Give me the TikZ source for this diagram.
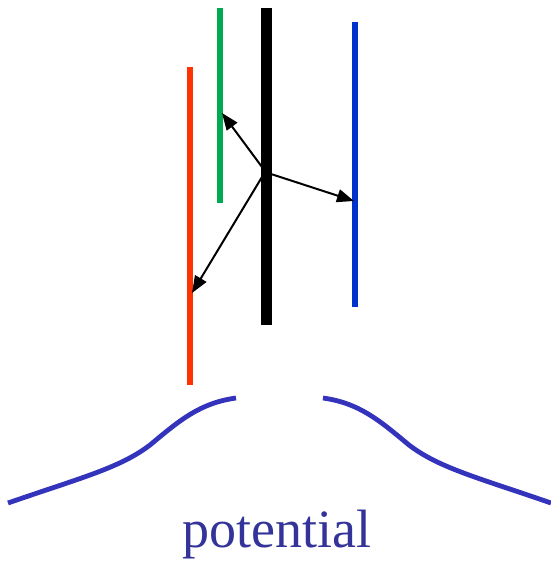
\documentclass[tikz,border=0pt]{standalone}
\usepackage{fontspec}
\setmainfont{Liberation Serif}
\usetikzlibrary{arrows.meta,positioning}
\definecolor{wallRed}{RGB}{255,51,0}
\definecolor{wallGreen}{RGB}{0,170,80}
\definecolor{wallBlue}{RGB}{0,51,204}
\definecolor{potBlue}{RGB}{51,51,187}
\definecolor{labelBlue}{RGB}{51,51,153}

\begin{document}
\begin{tikzpicture}[x=1pt,y=-1pt]
                    \useasboundingbox (0,0) rectangle (550,563);
                    % plates
                    \draw[line width=11pt] (266,8) -- (266,325);
                    \draw[wallGreen, line width=5.5pt] (220,8) -- (220,203);
                    \draw[wallRed, line width=5.5pt] (190,67) -- (190,385);
                    \draw[wallBlue, line width=5.5pt] (355,22) -- (355,307);
                    % arrows
                    \coordinate (srcG) at (262,167);
                    \coordinate (srcR) at (262,177);
                    \coordinate (srcB) at (271,174);
                    \coordinate (hitG) at (222,113);
                    \coordinate (hitR) at (192,293);
                    \coordinate (hitB) at (354,201);
                    \draw[-{Triangle[length=17pt,width=13pt]}, line width=2pt] (srcG) -- (hitG);
                    \draw[-{Triangle[length=17pt,width=13pt]}, line width=2pt] (srcR) -- (hitR);
                    \draw[-{Triangle[length=17pt,width=13pt]}, line width=2pt] (srcB) -- (hitB);
                    % potential
                    \draw[potBlue, line width=4.8pt] (8,503) .. controls (80,478) and (120,468) .. (150,445) .. controls (180,420) and (200,403) .. (236,398);
                    \draw[potBlue, line width=4.8pt] (323,398) .. controls (359,403) and (379,420) .. (409,445) .. controls (439,468) and (479,478) .. (551,503);
                    \node[text=labelBlue, font=\fontsize{54}{60}\selectfont] (pot) at (277,535) {potential};
                \end{tikzpicture}
\end{document}
